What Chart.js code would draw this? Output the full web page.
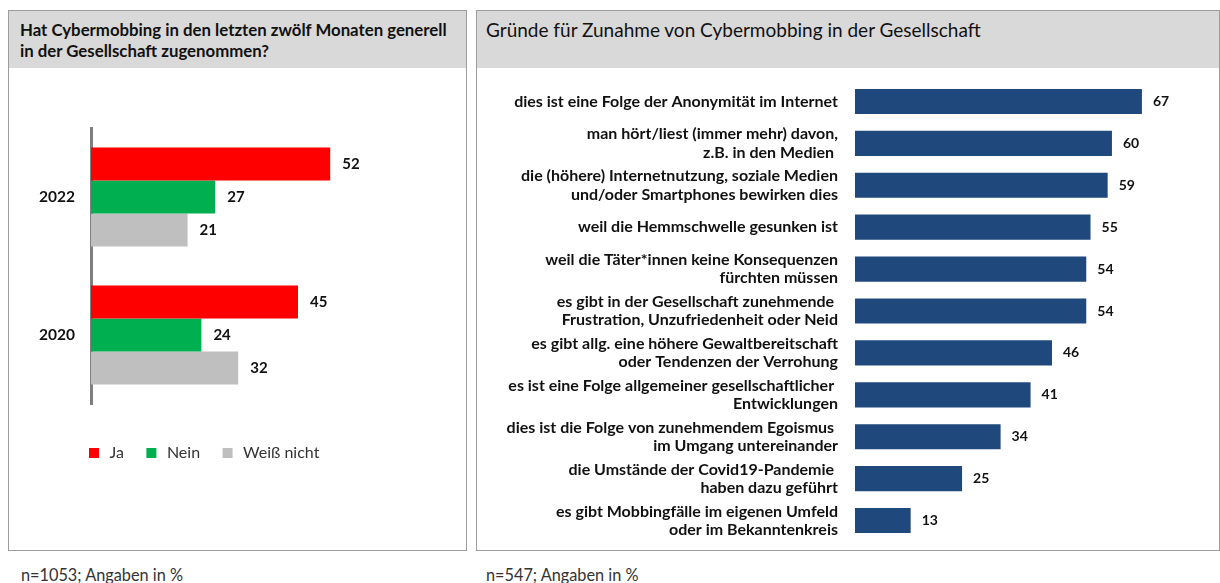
<!DOCTYPE html>
<html><head><meta charset="utf-8">
<script src="https://cdn.jsdelivr.net/npm/chart.js@4.4.0/dist/chart.umd.min.js"></script>
<style>
body{margin:0;width:1220px;height:583px;background:#fff;position:relative;font-family:Lato,sans-serif;overflow:hidden;color:#000}
.panel{position:absolute;border:1.5px solid #9c9c9c;box-sizing:border-box;background:#fff}
.head{position:absolute;left:0;top:0;right:0;height:57px;background:#d9d9d9}
.ttl{position:absolute;color:#111}
.foot{position:absolute;font-size:16.3px;line-height:20px;color:#333;top:565px}
canvas{position:absolute}
</style></head><body>
<div class="panel" style="left:8px;top:10px;width:459px;height:541px"><div class="head"></div></div>
<div class="panel" style="left:476px;top:10px;width:744px;height:541px"><div class="head"></div></div>
<div class="ttl" style="left:20px;top:18.5px;font-size:16.8px;line-height:21px;font-weight:bold">Hat Cybermobbing in den letzten zwölf Monaten generell<br>in der Gesellschaft zugenommen?</div>
<div class="ttl" style="left:486px;top:19px;font-size:19px;line-height:22px">Gründe für Zunahme von Cybermobbing in der Gesellschaft</div>
<div class="foot" style="left:21px">n=1053; Angaben in %</div>
<div class="foot" style="left:486px">n=547; Angaben in %</div>
<canvas id="c1" style="left:9px;top:69px;width:456px;height:420px" width="456" height="420"></canvas>
<canvas id="c2" style="left:478px;top:69px;width:740px;height:479px" width="740" height="479"></canvas>
<script>
const years = ['2022', '2020'];
const seriesNames = ['Ja', 'Nein', 'Weiß nicht'];
const ja = [52, 45];
const nein = [27, 24];
const weissNicht = [21, 32];

const reasons = [
  'dies ist eine Folge der Anonymität im Internet',
  ['man hört/liest (immer mehr) davon,', 'z.B. in den Medien '],
  ['die (höhere) Internetnutzung, soziale Medien', 'und/oder Smartphones bewirken dies'],
  'weil die Hemmschwelle gesunken ist',
  ['weil die Täter*innen keine Konsequenzen', 'fürchten müssen'],
  ['es gibt in der Gesellschaft zunehmende ', 'Frustration, Unzufriedenheit oder Neid'],
  ['es gibt allg. eine höhere Gewaltbereitschaft', 'oder Tendenzen der Verrohung'],
  ['es ist eine Folge allgemeiner gesellschaftlicher ', 'Entwicklungen'],
  ['dies ist die Folge von zunehmendem Egoismus ', 'im Umgang untereinander'],
  ['die Umstände der Covid19-Pandemie ', 'haben dazu geführt'],
  ['es gibt Mobbingfälle im eigenen Umfeld', 'oder im Bekanntenkreis']
];
const reasonValues = [67, 60, 59, 55, 54, 54, 46, 41, 34, 25, 13];

Chart.defaults.font.family = 'Lato, sans-serif';
Chart.defaults.animation = false;

function valueLabels(size, offset) {
  return {
    id: 'valueLabels',
    afterDatasetsDraw(chart) {
      const ctx = chart.ctx;
      ctx.save();
      ctx.font = 'bold ' + size + 'px Lato, sans-serif';
      ctx.fillStyle = '#111';
      ctx.textBaseline = 'middle';
      ctx.textAlign = 'left';
      chart.data.datasets.forEach((ds, di) => {
        chart.getDatasetMeta(di).data.forEach((bar, i) => {
          ctx.fillText(String(ds.data[i]), bar.x + offset, bar.y);
        });
      });
      ctx.restore();
    }
  };
}

// start the legend just left of the value axis line
const legendShift = {
  id: 'legendShift',
  afterLayout(chart) {
    const lg = chart.legend;
    const d = chart.chartArea.left - 24.5 - lg.left;
    lg.left += d; lg.right += d;
  }
};

function fixAxis(width) {
  return function (s) { s.width = width; s.paddingTop = 0; s.paddingBottom = 0; };
}

new Chart(document.getElementById('c1'), {
  type: 'bar',
  data: {
    labels: years,
    datasets: [
      {label: seriesNames[0], data: ja, backgroundColor: '#ff0000'},
      {label: seriesNames[1], data: nein, backgroundColor: '#00b050'},
      {label: seriesNames[2], data: weissNicht, backgroundColor: '#bfbfbf'}
    ]
  },
  options: {
    responsive: false,
    indexAxis: 'y',
    categoryPercentage: 0.717,
    barPercentage: 1,
    layout: {padding: {left: 0, top: 59, right: 6, bottom: 18}},
    scales: {
      x: {display: false, min: 0, max: 80},
      y: {
        grid: {display: false, drawTicks: false},
        border: {display: true, color: '#7f7f7f', width: 3},
        ticks: {padding: 16, color: '#111', font: {size: 15.5, weight: 'bold'}},
        afterFit: fixAxis(82)
      }
    },
    plugins: {
      tooltip: {enabled: false},
      legend: {
        position: 'bottom', align: 'start',
        title: {display: true, text: ' ', font: {size: 1}, padding: {top: 19.8, bottom: 0}},
        labels: {usePointStyle: true, pointStyle: 'rect', boxHeight: 10, boxWidth: 15,
                 padding: 20, color: '#333', font: {size: 16}}
      }
    }
  },
  plugins: [valueLabels(15, 12), legendShift]
});

new Chart(document.getElementById('c2'), {
  type: 'bar',
  data: {
    labels: reasons,
    datasets: [{label: 'Gründe', data: reasonValues, backgroundColor: '#1f497d'}]
  },
  options: {
    responsive: false,
    indexAxis: 'y',
    categoryPercentage: 0.6,
    barPercentage: 1,
    layout: {padding: {left: 0, top: 11.5, right: 20.4, bottom: 6.5}},
    scales: {
      x: {display: false, min: 0, max: 80},
      y: {
        grid: {display: false, drawTicks: false},
        border: {display: false},
        ticks: {padding: 17, color: '#111', font: {size: 16, weight: 'bold', lineHeight: 1.15}},
        afterFit: fixAxis(377)
      }
    },
    plugins: {tooltip: {enabled: false}, legend: {display: false}}
  },
  plugins: [valueLabels(14, 11)]
});
</script>
</body></html>
